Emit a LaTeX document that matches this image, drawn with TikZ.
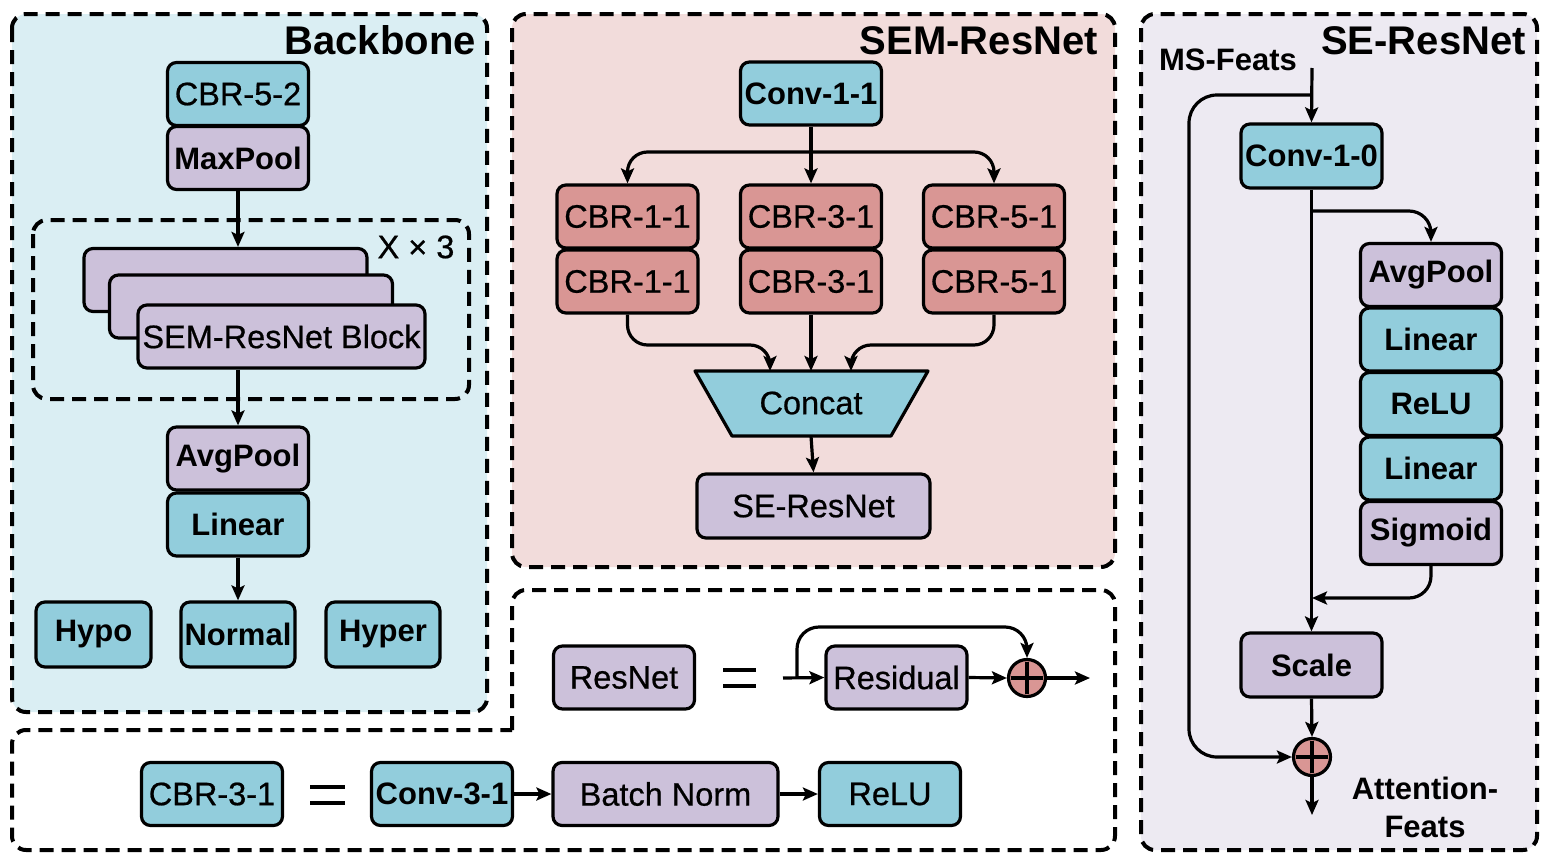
\documentclass[tikz,border=0pt]{standalone}
\usepackage{fontspec}
\setmainfont{Liberation Sans}
\newfontfamily\medf[FakeBold=0.6]{Liberation Sans}
\usetikzlibrary{arrows.meta}
\definecolor{tealc}{HTML}{92CDDC}
\definecolor{purc}{HTML}{CCC1DA}
\definecolor{redc}{HTML}{D99694}
\definecolor{bgblue}{HTML}{DAEEF3}
\definecolor{bgpink}{HTML}{F2DCDB}
\definecolor{bglav}{HTML}{EDEAF2}
\newcommand\myfs{\fontsize{31}{38}\selectfont}
\newcommand\myfr{\medf\fontsize{32.5}{38}\selectfont}
\newcommand\myft{\fontsize{40}{44}\selectfont}
\tikzset{
 bx/.style={draw, line width=3.2pt, rounded corners=9pt, inner sep=0pt, minimum width=141pt, minimum height=63pt, font=\myfr},
 tl/.style={bx, fill=tealc},
 pu/.style={bx, fill=purc},
 rd/.style={bx, fill=redc},
 bf/.style={font=\myfs\bfseries},
 panel/.style={line width=4pt, dash pattern=on 14pt off 8pt, rounded corners=14pt},
 arr/.style={line width=3.2pt, -{Stealth[length=15pt,width=13pt,inset=3pt]}},
 ln/.style={line width=3.2pt},
 ttl/.style={font=\myft\bfseries, anchor=base east, inner sep=0pt},
 txt/.style={font=\myfr, inner sep=0pt},
 pl/.style={circle, draw, line width=3.2pt, fill=redc, minimum size=37pt, inner sep=0pt},
}
\begin{document}
\begin{tikzpicture}[x=1pt,y=-1pt]
\useasboundingbox (0,0) rectangle (1548,862);
% panels
\draw[panel, fill=bgblue] (12,14) rectangle (487,712);
\draw[panel, fill=bgpink] (512,14) rectangle (1115,567);
\draw[panel, fill=bglav] (1141,14) rectangle (1537,850);
\draw[panel] (512,730) -- (512,590) -- (1115,590) -- (1115,850) -- (12,850) -- (12,730) -- (512,730);
\draw[panel] (33,220) rectangle (469,399);
% titles
\node[ttl] (t1) at (476,54) {Backbone};
\node[ttl] (t2) at (1098,54) {SEM-ResNet};
\node[ttl] (t3) at (1526,54) {SE-ResNet};

% Backbone
\node[tl] (cbr52) at (238,94) {CBR-5-2};
\node[pu, bf] (maxpool) at (238,158) {MaxPool};
\node[txt] (x3) at (416,247) {X × 3};
\node[pu, minimum width=283pt] (blk1) at (225.5,280) {};
\node[pu, minimum width=283pt] (blk2) at (251,306.5) {};
\node[pu, minimum width=287pt] (blk3) at (281.5,336.5) {SEM-ResNet Block};
\node[pu, bf] (avgpool) at (238,458.5) {AvgPool};
\node[tl, bf] (linear) at (238,524.5) {Linear};
\node[tl, bf, minimum width=115pt, minimum height=65pt] (hypo) at (93.5,634.5) {Hypo};
\node[tl, bf, minimum width=114pt, minimum height=65pt] (normal) at (238,634.5) {Normal};
\node[tl, bf, minimum width=114pt, minimum height=65pt] (hyper) at (383,634.5) {Hyper};
\draw[arr] (maxpool.south) -- (maxpool.south |- blk1.north);
\draw[arr] (maxpool.south |- blk3.south) -- (avgpool.north);
\draw[arr] (linear.south) -- (normal.north);

% SEM-ResNet
\node[tl, bf] (conv11) at (811,93.5) {Conv-1-1};
\node[rd] (cbr11a) at (627.5,216.5) {CBR-1-1};
\node[rd] (cbr11b) at (627.5,281.5) {CBR-1-1};
\node[rd] (cbr31a) at (811,216.5) {CBR-3-1};
\node[rd] (cbr31b) at (811,281.5) {CBR-3-1};
\node[rd] (cbr51a) at (994,216.5) {CBR-5-1};
\node[rd] (cbr51b) at (994,281.5) {CBR-5-1};
\coordinate (cTL) at (695,371);
\coordinate (cTR) at (928,371);
\coordinate (cBR) at (891,436);
\coordinate (cBL) at (732,436);
\draw[ln, fill=tealc, line join=round] (cTL) -- (cTR) -- (cBR) -- (cBL) -- cycle;
\node[txt] (concat) at (811,403) {Concat};
\coordinate (c1) at (770,371);
\coordinate (c2) at (811,371);
\coordinate (c3) at (851,371);
\coordinate (cb) at (811,436);
\node[pu, minimum width=233pt, minimum height=64pt] (seres) at (813.5,506) {SE-ResNet};
\coordinate (br) at (811,152);
\draw[arr] (conv11.south) -- (cbr31a.north);
\draw[arr, rounded corners=20pt] (br) -- (br -| cbr11a.north) -- (cbr11a.north);
\draw[arr, rounded corners=20pt] (br) -- (br -| cbr51a.north) -- (cbr51a.north);
\draw[arr, rounded corners=20pt] (cbr11b.south) -- (627.5,345) -- (770,345) -- (c1);
\draw[arr] (cbr31b.south) -- (c2);
\draw[arr, rounded corners=20pt] (cbr51b.south) -- (994,345) -- (851,345) -- (c3);
\draw[arr] (cb) -- (seres.north);

% ResNet definition
\node[pu] (resnet) at (624,677.5) {ResNet};
\draw[line width=4pt] (723,670) -- (756,670) (723,686) -- (756,686);
\node[pu] (residual) at (896.5,677.5) {Residual};
\node[pl] (plus) at (1027,678) {};
\draw[ln] ([xshift=-16pt]plus.center) -- ([xshift=16pt]plus.center);
\draw[ln] ([yshift=-16pt]plus.center) -- ([yshift=16pt]plus.center);
\coordinate (rin) at (783,678);
\coordinate (rloop) at (797,678);
\coordinate (rtop) at (1027,627);
\coordinate (rout) at (1090,678);
\draw[arr] (rin) -- (residual.west);
\draw[arr, rounded corners=22pt] (rloop) -- (rloop |- rtop) -- (rtop) -- (plus.north);
\draw[arr] (residual.east) -- (plus.west);
\draw[arr] (plus.east) -- (rout);

% CBR definition
\node[tl] (cbr31) at (212,794) {CBR-3-1};
\draw[line width=4pt] (310,787) -- (345,787) (310,803) -- (345,803);
\node[tl, bf] (conv31) at (442,794) {Conv-3-1};
\node[pu, minimum width=225pt] (bn) at (665.5,794) {Batch Norm};
\node[tl] (relu) at (890,794) {ReLU};
\draw[arr] (conv31.east) -- (bn.west);
\draw[arr] (bn.east) -- (relu.west);

% SE-ResNet
\node[txt, font=\myfs\bfseries] (ms) at (1228,60) {MS-Feats};
\coordinate (msin) at (1312,68);
\coordinate (skip) at (1312,95);
\node[tl, bf, minimum height=64pt] (conv10) at (1311.5,156) {Conv-1-0};
\node[pu, bf] (avg2) at (1431,275) {AvgPool};
\node[tl, bf] (lin2) at (1431,339.5) {Linear};
\node[tl, bf] (relu2) at (1431,404) {ReLU};
\node[tl, bf] (lin3) at (1431,468.5) {Linear};
\node[pu, bf] (sig) at (1431,533) {Sigmoid};
\node[pu, bf, minimum height=64pt] (scale) at (1311.5,665) {Scale};
\node[pl] (plus2) at (1312,757) {};
\draw[ln] ([xshift=-16pt]plus2.center) -- ([xshift=16pt]plus2.center);
\draw[ln] ([yshift=-16pt]plus2.center) -- ([yshift=16pt]plus2.center);
\coordinate (sb) at (1312,211);
\coordinate (sr) at (1312,598);
\coordinate (out2) at (1312,815);
\draw[arr] (msin) -- (conv10.north);
\draw[arr, rounded corners=28pt] (skip) -- (1189,95) -- (1189,757) -- (plus2.west);
\draw[arr] (conv10.south) -- (scale.north);
\draw[arr, rounded corners=22pt] (sb) -- (sb -| avg2.north) -- (avg2.north);
\draw[arr, rounded corners=22pt] (sig.south) -- (sig.south |- sr) -- (sr);
\draw[arr] (scale.south) -- (plus2.north);
\draw[arr] (plus2.south) -- (out2);
\node[txt, font=\myfs\bfseries, align=center] (att) at (1425,807) {Attention-\\Feats};
\end{tikzpicture}
\end{document}
